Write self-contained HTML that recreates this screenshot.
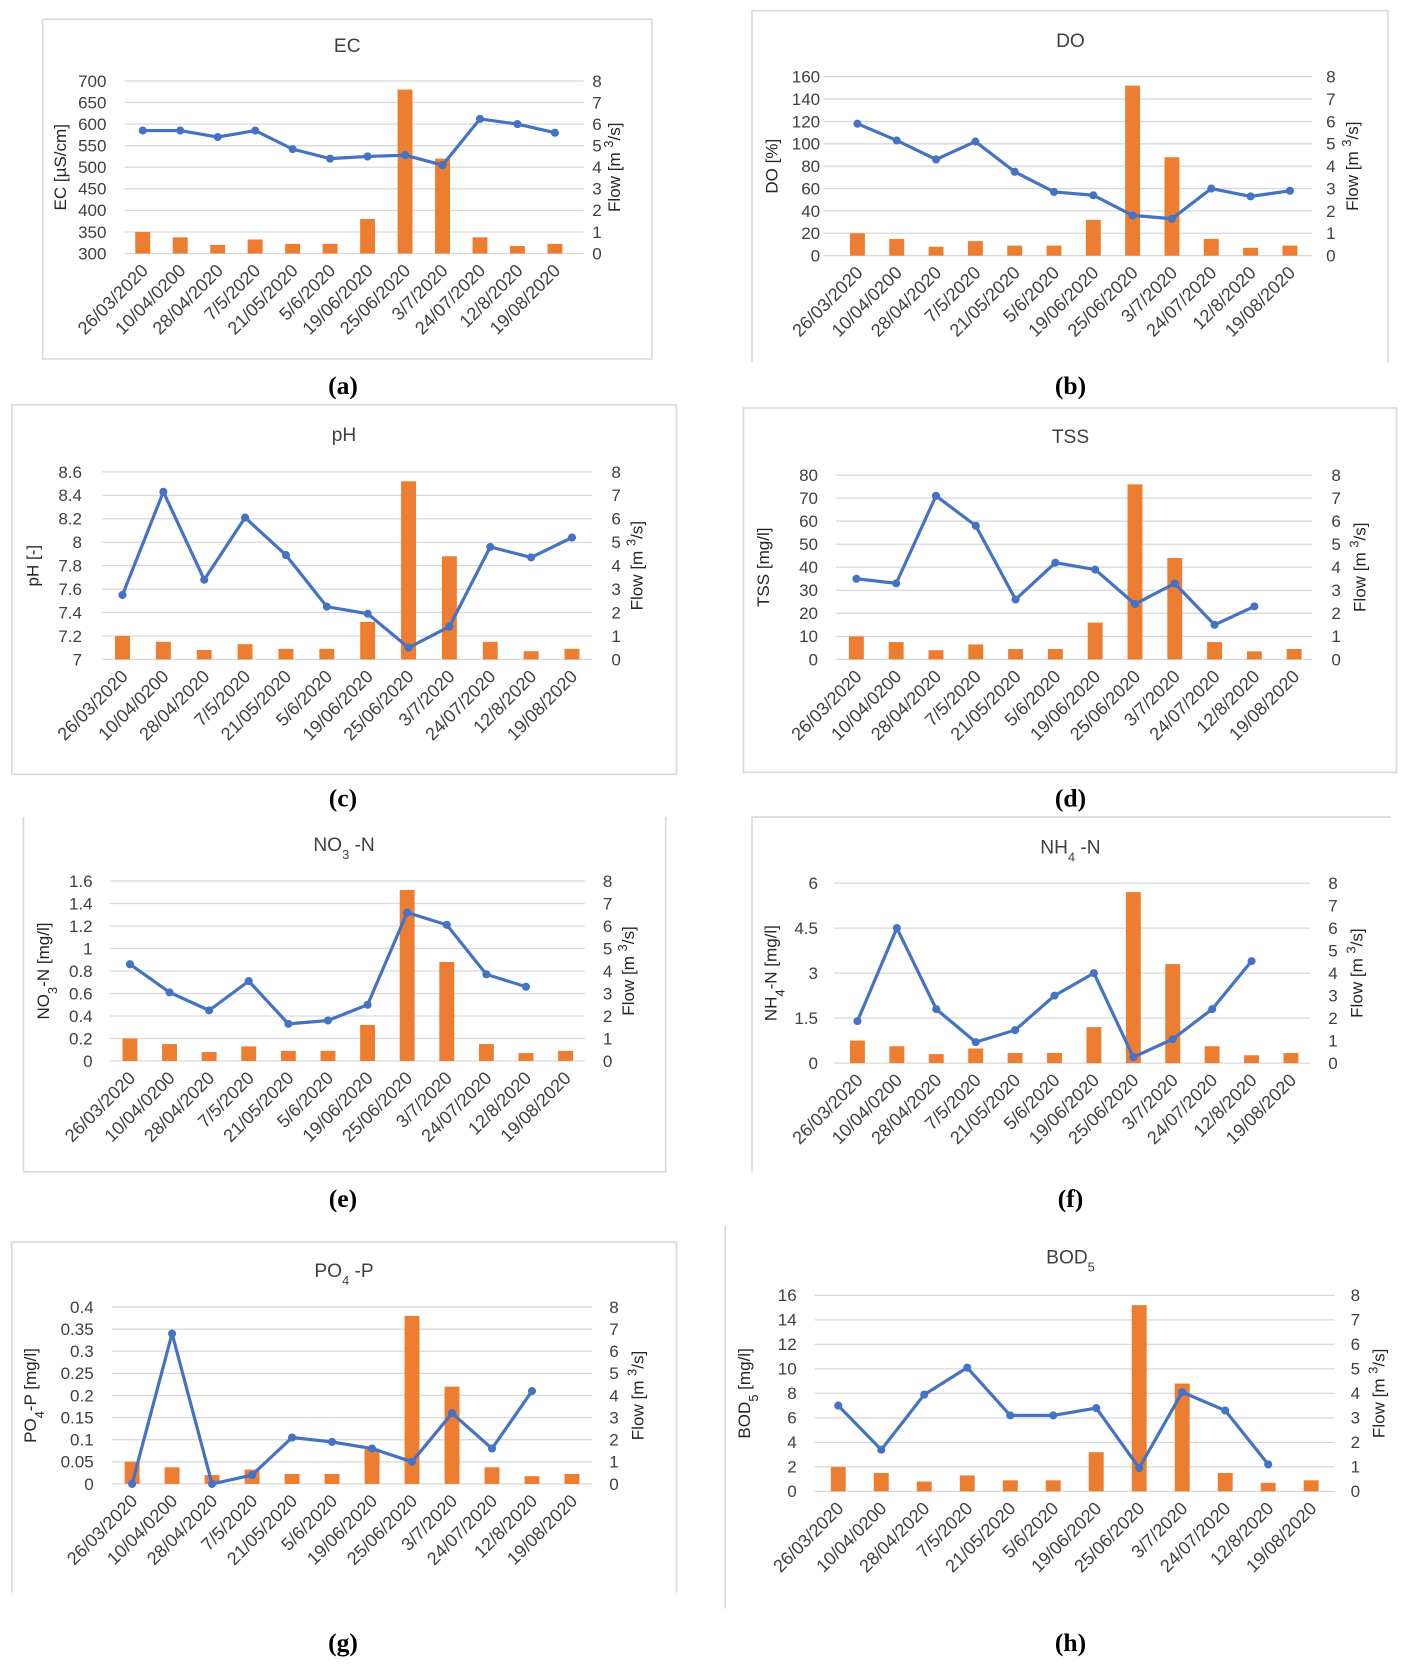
<!DOCTYPE html>
<html><head><meta charset="utf-8"><style>
html,body{margin:0;padding:0;background:#fff;}
svg{display:block;font-family:"Liberation Sans",sans-serif;}
</style></head><body>
<svg id="fig" width="1406" height="1665" viewBox="0 0 1320 1563" preserveAspectRatio="none" xmlns="http://www.w3.org/2000/svg"></svg>
<script>
const categories = ["26/03/2020","10/04/0200","28/04/2020","7/5/2020","21/05/2020","5/6/2020","19/06/2020","25/06/2020","3/7/2020","24/07/2020","12/8/2020","19/08/2020"];
const flowValues = [1.0,0.75,0.4,0.65,0.45,0.45,1.6,7.6,4.4,0.75,0.35,0.45];
const flowTicks = [0,1,2,3,4,5,6,7,8];
const ecValues = [585,585,570,585,542,520,525,528,505,612,600,580];
const ecTicks = [300,350,400,450,500,550,600,650,700];
const doValues = [118,103,86,102,75,57,54,36,33,60,53,58];
const doTicks = [0,20,40,60,80,100,120,140,160];
const phValues = [7.55,8.43,7.68,8.21,7.89,7.45,7.39,7.1,7.28,7.96,7.87,8.04];
const phTicks = [7,7.2,7.4,7.6,7.8,8,8.2,8.4,8.6];
const phTickLabels = ["7","7.2","7.4","7.6","7.8","8","8.2","8.4","8.6"];
const tssValues = [35,33,71,58,26,42,39,24,33,15,23,null];
const tssTicks = [0,10,20,30,40,50,60,70,80];
const no3Values = [0.86,0.61,0.45,0.71,0.33,0.36,0.5,1.32,1.21,0.77,0.66,null];
const no3Ticks = [0,0.2,0.4,0.6,0.8,1,1.2,1.4,1.6];
const no3TickLabels = ["0","0.2","0.4","0.6","0.8","1","1.2","1.4","1.6"];
const nh4Values = [1.4,4.5,1.8,0.7,1.1,2.25,3.0,0.2,0.8,1.8,3.4,null];
const nh4Ticks = [0,1.5,3,4.5,6];
const nh4TickLabels = ["0","1.5","3","4.5","6"];
const po4Values = [0.0,0.34,0.0,0.02,0.105,0.095,0.08,0.05,0.16,0.08,0.21,null];
const po4Ticks = [0,0.05,0.1,0.15,0.2,0.25,0.3,0.35,0.4];
const po4TickLabels = ["0","0.05","0.1","0.15","0.2","0.25","0.3","0.35","0.4"];
const bodValues = [7,3.4,7.9,10.1,6.2,6.2,6.8,1.9,8.1,6.6,2.2,null];
const bodTicks = [0,2,4,6,8,10,12,14,16];

const NS="http://www.w3.org/2000/svg";
const svg=document.getElementById('fig');
function mk(tag,attrs,parent,text){const e=document.createElementNS(NS,tag);for(const k in attrs)e.setAttribute(k,attrs[k]);if(text!==undefined)e.textContent=text;(parent||svg).appendChild(e);return e;}
function richText(el,parts){parts.forEach(p=>{const t=document.createElementNS(NS,'tspan');if(p.sub){t.setAttribute('baseline-shift','sub');t.setAttribute('font-size','12');}if(p.sup){t.setAttribute('baseline-shift','super');t.setAttribute('font-size','12');}t.textContent=p.t;el.appendChild(t);});}

function chart(c){
  const g=mk('g',{},svg);
  
  
  if(c.box){const b=mk('path',{d:c.box,fill:'none',stroke:'#d9d9d9','stroke-width':1.5},g);}
  const ymin=c.ticks[0],ymax=c.ticks[c.ticks.length-1];
  const yS=v=>c.y0-(v-ymin)/(ymax-ymin)*(c.y0-c.y1);
  const fS=v=>c.y0-v/8*(c.y0-c.y1);
  const step=(c.xl-c.xf)/11;
  const xS=i=>c.xf+i*step;
  const t=mk('text',{x:c.tx,y:c.ty,'text-anchor':'middle','font-size':18,fill:'#404040'},g);
  richText(t,c.title);
  c.ticks.forEach((v,i)=>{
    const y=yS(v);
    const gl=mk('line',{x1:c.px0,x2:c.px1,y1:y,y2:y,stroke:'#d9d9d9','stroke-width':1.2},g);
    
    const lb=mk('text',{x:c.lx,y:y+5.5,'text-anchor':'end','font-size':16,fill:'#404040'},g,c.tickLabels?c.tickLabels[i]:String(v));
    
  });
  flowTicks.forEach(v=>{const rl=mk('text',{x:c.rx,y:fS(v)+5.5,'text-anchor':'start','font-size':16,fill:'#404040'},g,String(v));});
  flowValues.forEach((v,i)=>{const r=mk('rect',{x:xS(i)-7,y:fS(v),width:14,height:c.y0-fS(v),fill:'#ED7D31'},g);});
  let d='';c.values.forEach((v,i)=>{if(v===null)return;d+=(d?'L':'M')+xS(i)+' '+yS(v);});
  const ln=mk('path',{d:d,fill:'none',stroke:'#4472C4','stroke-width':3,'stroke-linejoin':'round'},g);
  
  c.values.forEach((v,i)=>{if(v===null)return;const p=mk('circle',{cx:xS(i),cy:yS(v),r:3.8,fill:'#4472C4'},g);});
  categories.forEach((s,i)=>{const x=xS(i)+6,y=c.y0+17;const tx=mk('text',{x:x,y:y,'text-anchor':'end','font-size':17,fill:'#404040',transform:'rotate(-45 '+x+' '+y+')'},g,s);});
  const cy=(c.y0+c.y1)/2;
  const at=mk('text',{x:c.ax,y:cy,'text-anchor':'middle','font-size':16,fill:'#262626',transform:'rotate(-90 '+c.ax+' '+cy+')'},g);
  richText(at,c.ytitle);
  const fx=c.fx;
  const ft=mk('text',{x:fx,y:cy,'text-anchor':'middle','font-size':16,fill:'#262626',transform:'rotate(-90 '+fx+' '+cy+')'},g);
  richText(ft,[{t:'Flow [m '},{t:'3',sup:true},{t:'/s]'}]);
  const cap=mk('text',{x:c.cx,y:c.cy,'text-anchor':'middle','font-size':24,'font-weight':'bold',fill:'#000','font-family':'Liberation Serif, serif'},g,c.cap);
  
}

chart({name:'ec',box:'M40 18H612V337H40Z',title:[{t:'EC'}],tx:326,ty:49,values:ecValues,ticks:ecTicks,y0:238,y1:76,px0:117,px1:548,lx:100,rx:556,xf:134,xl:521,ax:62,fx:582,ytitle:[{t:'EC [µS/cm]'}],cap:'(a)',cx:322,cy:370});
chart({name:'do',box:'M706 340V10H1303V340',title:[{t:'DO'}],tx:1005,ty:44,values:doValues,ticks:doTicks,y0:240,y1:72,px0:773,px1:1232,lx:770,rx:1245,xf:805,xl:1211,ax:730,fx:1275,ytitle:[{t:'DO [%]'}],cap:'(b)',cx:1005,cy:370});
chart({name:'ph',box:'M11 380H635V727H11Z',title:[{t:'pH'}],tx:323,ty:414,values:phValues,ticks:phTicks,tickLabels:phTickLabels,y0:619,y1:443,px0:96,px1:556,lx:77,rx:574,xf:115,xl:537,ax:36,fx:603,ytitle:[{t:'pH [-]'}],cap:'(c)',cx:322,cy:757});
chart({name:'tss',box:'M698 383H1311V725H698Z',title:[{t:'TSS'}],tx:1005,ty:416,values:tssValues,ticks:tssTicks,y0:619,y1:446,px0:785,px1:1232,lx:768,rx:1250,xf:804,xl:1215,ax:722,fx:1282,ytitle:[{t:'TSS  [mg/l]'}],cap:'(d)',cx:1005,cy:757});
chart({name:'no3',box:'M22 767V1100H625V767',title:[{t:'NO'},{t:'3',sub:true},{t:' -N'}],tx:323,ty:799,values:no3Values,ticks:no3Ticks,tickLabels:no3TickLabels,y0:996,y1:827,px0:103,px1:549,lx:87,rx:566,xf:122,xl:531,ax:46,fx:595,ytitle:[{t:'NO'},{t:'3',sub:true},{t:'-N [mg/l]'}],cap:'(e)',cx:322,cy:1133});
chart({name:'nh4',box:'M706 1100V767H1306',title:[{t:'NH'},{t:'4',sub:true},{t:' -N'}],tx:1005,ty:801,values:nh4Values,ticks:nh4Ticks,tickLabels:nh4TickLabels,y0:998,y1:829,px0:783,px1:1230,lx:768,rx:1247,xf:805,xl:1212,ax:729,fx:1279,ytitle:[{t:'NH'},{t:'4',sub:true},{t:'-N [mg/l]'}],cap:'(f)',cx:1005,cy:1133});
chart({name:'po4',box:'M11 1495V1166H635V1495',title:[{t:'PO'},{t:'4',sub:true},{t:' -P'}],tx:323,ty:1199,values:po4Values,ticks:po4Ticks,tickLabels:po4TickLabels,y0:1393,y1:1227,px0:105,px1:556,lx:88,rx:572,xf:124,xl:537,ax:34,fx:604,ytitle:[{t:'PO'},{t:'4',sub:true},{t:'-P [mg/l]'}],cap:'(g)',cx:322,cy:1550});
chart({name:'bod',box:'M681 1150V1510',title:[{t:'BOD'},{t:'5',sub:true}],tx:1005,ty:1186,values:bodValues,ticks:bodTicks,y0:1400,y1:1216,px0:765,px1:1253,lx:748,rx:1268,xf:787,xl:1231,ax:704,fx:1300,ytitle:[{t:'BOD'},{t:'5',sub:true},{t:' [mg/l]'}],cap:'(h)',cx:1005,cy:1550});
</script>
</body></html>
